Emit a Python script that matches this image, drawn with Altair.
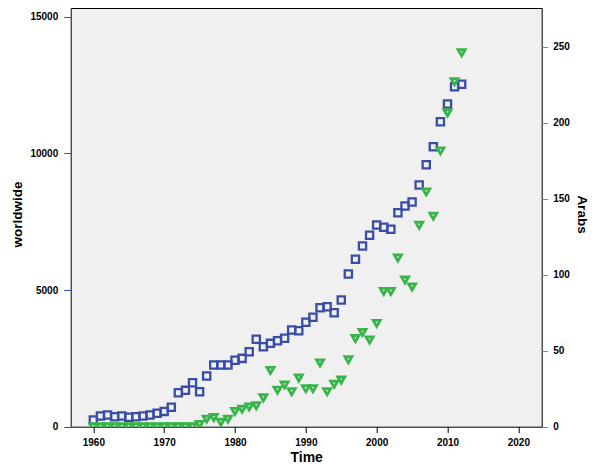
import altair as alt
import pandas as pd

years = list(range(1960, 2013))
worldwide = [245, 390, 430, 366, 390, 343, 366, 390, 430, 490,
             560, 710, 1245, 1330, 1610, 1280, 1855, 2257, 2257, 2257,
             2430, 2500, 2745, 3198, 2927, 3050, 3147, 3235, 3538, 3513,
             3820, 4003, 4354, 4391, 4171, 4636, 5587, 6125, 6612, 7003,
             7380, 7296, 7223, 7830, 8075, 8222, 8844, 9587, 10245, 11160,
             11808, 12441, 12529]
arabs = [0, 0, 0, 0, 0, 0, 0, 0, 0, 0,
         0, 0, 0, 0, 0, 1.5, 5, 6, 3, 5,
         10, 11.5, 13, 13.8, 19, 37, 24, 27.5, 23, 32,
         25, 25, 42, 23, 28, 30.7, 44, 58, 62, 57,
         68, 89, 89, 111, 96.5, 92, 132.5, 154.5, 138.5, 181.5,
         206.5, 227, 246]

x_ticks = [1960, 1970, 1980, 1990, 2000, 2010, 2020]
left_ticks = [0, 5000, 10000, 15000]
right_ticks = [0, 50, 100, 150, 200, 250]

df = pd.DataFrame({"Time": years, "worldwide": worldwide, "Arabs": arabs})

BLUE = "#3a4da6"
GREEN = "#38b54a"
FONT = "Liberation Sans"

x_enc = alt.X(
    "Time:Q",
    scale=alt.Scale(domain=[1956.8, 2023.3], nice=False, zero=False),
    axis=alt.Axis(
        values=x_ticks, format="d", title="Time", grid=False, domain=False,
        tickColor="black", tickSize=6, labelPadding=5,
        labelFont=FONT, labelFontSize=10, labelFontWeight="bold", labelColor="black",
        titleFont=FONT, titleFontSize=14, titleFontWeight="bold", titleColor="black",
        titleBaseline="middle", titleY=31,
    ),
)

blue = alt.Chart(df).mark_point(
    shape="square", filled=False, size=52, strokeWidth=2.3, color=BLUE, opacity=1
).encode(
    x=x_enc,
    y=alt.Y(
        "worldwide:Q",
        scale=alt.Scale(domain=[0, 15320], nice=False),
        axis=alt.Axis(
            orient="left", values=left_ticks, format="d", title="worldwide", grid=False, domain=False,
            tickColor=BLUE, tickSize=7, labelPadding=6,
            labelFont=FONT, labelFontSize=10, labelFontWeight="bold", labelColor="black",
            titleFont=FONT, titleFontSize=13.5, titleFontWeight="bold", titleColor="black",
            titleBaseline="middle", titleX=-53, titleY=206, titleAngle=-90,
        ),
    ),
)

green = alt.Chart(df).mark_point(
    shape="triangle-down", filled=False, size=50, strokeWidth=2.8, color=GREEN,
    opacity=1, clip=True
).encode(
    x=x_enc,
    y=alt.Y(
        "Arabs:Q",
        scale=alt.Scale(domain=[0, 275.5], nice=False),
        axis=alt.Axis(
            orient="right", values=right_ticks, format="d", title="Arabs", grid=False, domain=False,
            tickColor=GREEN, tickSize=6, labelPadding=5,
            labelFont=FONT, labelFontSize=10, labelFontWeight="bold", labelColor="black",
            titleFont=FONT, titleFontSize=13.5, titleFontWeight="bold", titleColor="black",
            titleBaseline="middle", titleX=39.3, titleY=206, titleAngle=90,
        ),
    ),
)

chart = alt.layer(blue, green).resolve_scale(y="independent").properties(
    width=471,
    height=418.7,
    padding={"left": 62.7, "top": 0, "right": 50.3, "bottom": 37.3},
    autosize=alt.AutoSizeParams(type="none"),
).configure_view(
    fill="#f0f0f0", stroke="black", strokeWidth=1
)

chart.save("out.html", embed_options={"renderer": "svg", "actions": False})
